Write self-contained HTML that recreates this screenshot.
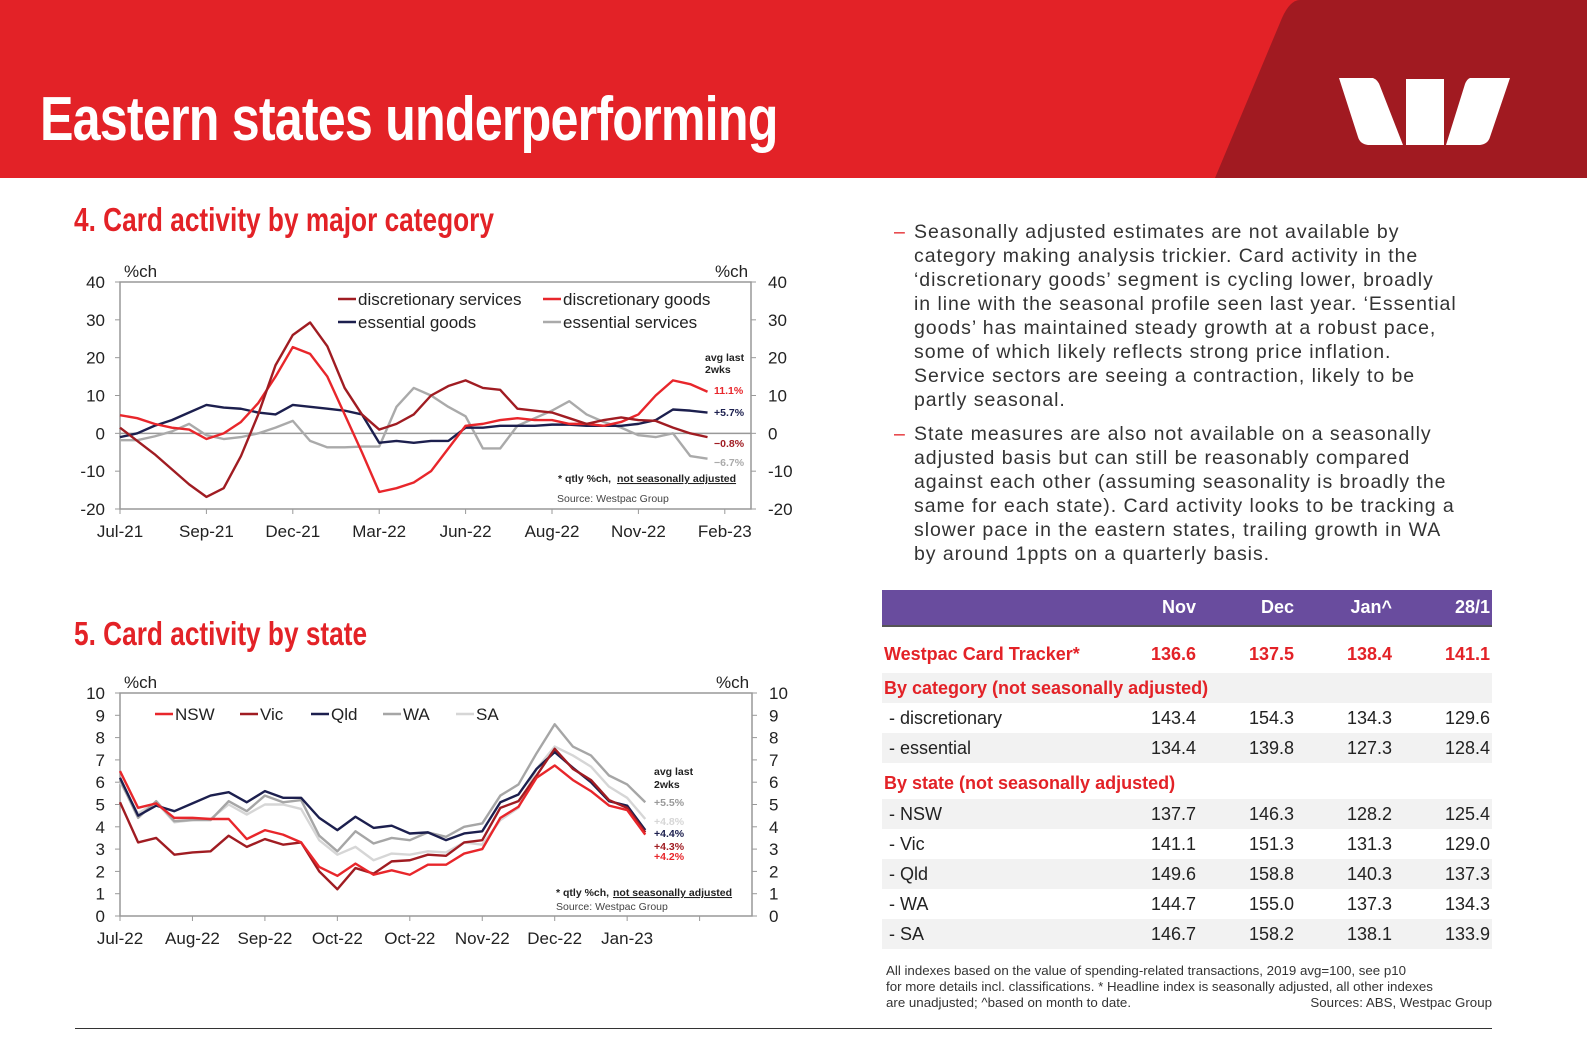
<!DOCTYPE html>
<html><head><meta charset="utf-8">
<style>
body{margin:0;width:1587px;height:1042px;position:relative;background:#fff;overflow:hidden;font-family:"Liberation Sans",sans-serif;}
.abs{position:absolute;}
#hdr{left:0;top:0;width:1587px;height:178px;background:#e32227;}
#title{left:40px;top:84px;color:#fff;font-family:"Liberation Sans Narrow","Liberation Sans",sans-serif;font-weight:bold;font-size:62px;letter-spacing:-1px;transform:scaleX(0.81);transform-origin:left top;white-space:nowrap;}
.sec{color:#e32227;font-family:"Liberation Sans Narrow","Liberation Sans",sans-serif;font-weight:bold;font-size:33px;transform:scaleX(0.795);transform-origin:left top;white-space:nowrap;}
.para{left:894px;width:640px;color:#333;font-size:19.5px;line-height:24px;letter-spacing:0.95px;white-space:nowrap;}
.para .d{position:absolute;left:0;color:#e32227;}
.para .t{margin-left:20px;}
table{border-collapse:collapse;position:absolute;left:882px;top:590px;width:610px;font-size:18px;color:#222;}
td{padding:0 2px;height:30px;white-space:nowrap;}
td.n{text-align:right;width:94px;}
tr.g td{background:#f2f2f2;}
tr.h td{background:#694c9e;color:#fff;font-weight:bold;height:35px;border-bottom:2px solid #555;}
tr.r td{color:#e32227;font-weight:bold;}
.note{left:886px;top:963px;width:606px;font-size:13.3px;line-height:16px;color:#333;white-space:nowrap;}
</style></head><body>
<div id="hdr" class="abs"></div>
<svg class="abs" style="left:0;top:0" width="1587" height="180">
<path d="M1300 0 L1587 0 L1587 178 L1215 178 L1282 18 Q1290 0 1300 0Z" fill="#a11a21"/>
<path d="M1339 78 L1373 78 Q1378 80 1380 86 L1403 145 L1368 145 Q1360 144 1358 137 Z" fill="#fff"/>
<rect x="1406" y="79" width="38" height="66" fill="#fff"/>
<path d="M1470 78 L1510 78 L1490 137 Q1488 144 1480 145 L1446 145 L1465 84 Q1467 79 1470 78Z" fill="#fff"/>
</svg>
<div id="title" class="abs">Eastern states underperforming</div>
<div class="abs sec" style="left:74px;top:201px">4. Card activity by major category</div>
<div class="abs sec" style="left:74px;top:615px">5. Card activity by state</div>

<div class="abs para" style="top:220px"><span class="d">–</span><div class="t">Seasonally adjusted estimates are not available by<br>category making analysis trickier. Card activity in the<br>‘discretionary goods’ segment is cycling lower, broadly<br>in line with the seasonal profile seen last year. ‘Essential<br>goods’ has maintained steady growth at a robust pace,<br>some of which likely reflects strong price inflation.<br>Service sectors are seeing a contraction, likely to be<br>partly seasonal.</div></div>
<div class="abs para" style="top:422px"><span class="d">–</span><div class="t">State measures are also not available on a seasonally<br>adjusted basis but can still be reasonably compared<br>against each other (assuming seasonality is broadly the<br>same for each state). Card activity looks to be tracking a<br>slower pace in the eastern states, trailing growth in WA<br>by around 1ppts on a quarterly basis.</div></div>

<table>
<tr class="h"><td></td><td class="n">Nov</td><td class="n">Dec</td><td class="n">Jan^</td><td class="n">28/1</td></tr>
<tr style="height:8px"><td style="height:8px"></td></tr>
<tr class="r"><td style="height:38px">Westpac Card Tracker*</td><td class="n">136.6</td><td class="n">137.5</td><td class="n">138.4</td><td class="n">141.1</td></tr>
<tr class="g r"><td colspan="5">By category (not seasonally adjusted)</td></tr>
<tr><td>&nbsp;- discretionary</td><td class="n">143.4</td><td class="n">154.3</td><td class="n">134.3</td><td class="n">129.6</td></tr>
<tr class="g"><td>&nbsp;- essential</td><td class="n">134.4</td><td class="n">139.8</td><td class="n">127.3</td><td class="n">128.4</td></tr>
<tr class="r"><td colspan="5" style="height:32px;padding-top:4px">By state (not seasonally adjusted)</td></tr>
<tr class="g"><td>&nbsp;- NSW</td><td class="n">137.7</td><td class="n">146.3</td><td class="n">128.2</td><td class="n">125.4</td></tr>
<tr><td>&nbsp;- Vic</td><td class="n">141.1</td><td class="n">151.3</td><td class="n">131.3</td><td class="n">129.0</td></tr>
<tr class="g"><td>&nbsp;- Qld</td><td class="n">149.6</td><td class="n">158.8</td><td class="n">140.3</td><td class="n">137.3</td></tr>
<tr><td>&nbsp;- WA</td><td class="n">144.7</td><td class="n">155.0</td><td class="n">137.3</td><td class="n">134.3</td></tr>
<tr class="g"><td>&nbsp;- SA</td><td class="n">146.7</td><td class="n">158.2</td><td class="n">138.1</td><td class="n">133.9</td></tr>
</table>
<div class="abs note">All indexes based on the value of spending-related transactions, 2019 avg=100, see p10<br>for more details incl. classifications. * Headline index is seasonally adjusted, all other indexes<br>are unadjusted; ^based on month to date.<span style="position:absolute;right:0">Sources: ABS, Westpac Group</span></div>
<div class="abs" style="left:75px;top:1028px;width:1417px;height:1px;background:#333"></div>

<svg id="c1" class="abs" style="left:0;top:0" width="800" height="1042"></svg>

<script>
// Chart 4 data
const c1Ticks = ["Jul-21","Sep-21","Dec-21","Mar-22","Jun-22","Aug-22","Nov-22","Feb-23"];
const c1YTicks = [-20,-10,0,10,20,30,40];
const discServices = [1.5,-2,-5.5,-9.5,-13.5,-16.8,-14.5,-6,5,18,26,29.3,23,12,5,1,2.5,5,10,12.5,14,12,11.5,6.5,6,5.5,4,2.5,3.5,4.2,3.5,3.3,1.5,0,-1];
const discGoods = [4.8,4,2.5,1.5,1,-1.5,0,3,8,15,22.8,21,15,5,-5,-15.5,-14.5,-13,-10,-4,2,2.5,3.5,4,3.5,3.5,2.5,2.5,2,3,5,10,14,13,11];
const essGoods = [-1,0,2,3.5,5.5,7.5,6.8,6.5,5.5,5,7.5,7,6.5,6,5,-2.5,-2,-2.5,-2,-2,1.5,1.5,2,2,2,2.3,2.3,2,2,2,2.5,3.5,6.3,6,5.5];
const essServices = [-1.8,-1.8,-0.8,0.5,2.5,-0.5,-1.5,-1,0,1.5,3.3,-2,-3.7,-3.7,-3.5,-3.5,7,12,10,7,4.5,-4,-4,2,4,6,8.5,5,3,1.5,-0.5,-1,0,-6,-6.7];
const c1Ends = ["11.1%","+5.7%","−0.8%","−6.7%"];
// Chart 5 data
const c2Ticks = ["Jul-22","Aug-22","Sep-22","Oct-22","Oct-22","Nov-22","Dec-22","Jan-23",""];
const c2YTicks = [0,1,2,3,4,5,6,7,8,9,10];
const nsw = [6.5,4.85,5.05,4.4,4.4,4.35,4.35,3.45,3.85,3.65,3.3,2.2,1.8,2.35,1.85,2.05,1.85,2.3,2.3,2.8,3.0,4.4,4.9,6.2,6.75,6.1,5.6,4.95,4.75,3.65];
const vic = [5.1,3.3,3.5,2.75,2.85,2.9,3.6,3.1,3.45,3.2,3.3,2.0,1.2,2.15,1.9,2.45,2.5,2.75,2.7,3.3,3.4,4.85,5.15,6.3,7.5,6.6,6.1,5.2,4.85,3.75];
const qld = [6.2,4.5,4.95,4.7,5.05,5.4,5.55,5.1,5.6,5.3,5.3,4.4,3.85,4.45,3.95,4.05,3.7,3.75,3.4,3.7,3.8,5.1,5.45,6.6,7.35,6.65,6.0,5.15,4.95,3.85];
const wa = [6.1,4.4,5.15,4.25,4.3,4.3,5.15,4.7,5.4,5.1,5.2,3.6,2.9,3.8,3.25,3.5,3.4,3.75,3.55,4.0,4.15,5.4,5.9,7.3,8.6,7.6,7.2,6.3,5.9,5.1];
const sa = [6.0,4.6,5.1,4.2,4.3,4.35,5.0,4.55,5.0,5.0,4.8,3.4,2.75,3.1,2.5,2.8,2.75,2.9,2.85,3.3,3.2,4.3,4.85,6.6,7.6,7.2,6.7,5.8,5.3,4.35];
const c2Ends = ["+5.5%","+4.8%","+4.4%","+4.3%","+4.2%"];

const NS="http://www.w3.org/2000/svg";
const svg=document.getElementById('c1');
function mk(tag,attrs,text){const e=document.createElementNS(NS,tag);for(const k in attrs)e.setAttribute(k,attrs[k]);if(text!==undefined)e.textContent=text;svg.appendChild(e);return e;}
const FONT='"Liberation Sans Narrow","Liberation Sans",sans-serif';

function chart(o){
  const L=o.left,R=o.right,T=o.top,B=o.bottom;
  const y=v=>B-(v-o.ymin)/(o.ymax-o.ymin)*(B-T);
  const x=i=>L+i*o.step;
  let e=mk('rect',{x:L,y:T,width:R-L,height:B-T,fill:'none',stroke:'#999','stroke-width':1.5});
  
  
  o.yt.forEach(v=>{
    mk('line',{x1:L-5,x2:L,y1:y(v),y2:y(v),stroke:'#999'});
    mk('line',{x1:R,x2:R+5,y1:y(v),y2:y(v),stroke:'#999'});
    e=mk('text',{x:L-15,y:y(v)+6,'text-anchor':'end','font-size':17,'font-family':FONT,fill:'#222'},String(v));
    
    
    e=mk('text',{x:R+17,y:y(v)+6,'font-size':17,'font-family':FONT,fill:'#222'},String(v));
    
    
  });
  if(o.zero) mk('line',{x1:L,x2:R,y1:y(0),y2:y(0),stroke:'#999','stroke-width':1.5});
  o.xt.forEach((t,k)=>{
    const xx=x(k*o.per);
    mk('line',{x1:xx,x2:xx,y1:B,y2:B+5,stroke:'#999'});
    e=mk('text',{x:xx,y:B+28,'text-anchor':'middle','font-size':17,'font-family':FONT,fill:'#222'},t);
    
    
  });
  e=mk('text',{x:L+4,y:T-5,'font-size':17,'font-family':FONT,fill:'#222'},'%ch');
  
  
  e=mk('text',{x:R-36,y:T-5,'font-size':17,'font-family':FONT,fill:'#222'},'%ch');
  
  
  o.series.forEach(s=>{
    const p=mk('polyline',{points:s.d.map((v,i)=>x(i)+','+y(v)).join(' '),fill:'none',stroke:s.c,'stroke-width':2.4,'stroke-linejoin':'round'});
    
    
  });
  o.series.forEach(s=>{
    mk('line',{x1:s.lx,x2:s.lx+18,y1:s.ly-6,y2:s.ly-6,stroke:s.c,'stroke-width':2.5});
    const t=mk('text',{x:s.lx+20,y:s.ly,'font-size':17,'font-family':FONT,fill:'#222'},s.label);
    
    
  });
}

chart({id:'c1',left:120,right:751,top:282,bottom:509,ymin:-20,ymax:40,step:86.4/5,per:5,zero:true,yt:c1YTicks,xt:c1Ticks,series:[
 {n:'essential-services',d:essServices,c:'#aaaaaa',label:'essential services',lx:543,ly:328},
 {n:'essential-goods',d:essGoods,c:'#1c1f4e',label:'essential goods',lx:338,ly:328},
 {n:'discretionary-goods',d:discGoods,c:'#e8262b',label:'discretionary goods',lx:543,ly:305},
 {n:'discretionary-services',d:discServices,c:'#a01c22',label:'discretionary services',lx:338,ly:305}]});

chart({id:'c2',left:120,right:752,top:693,bottom:916,ymin:0,ymax:10,step:72.45/4,per:4,zero:false,yt:c2YTicks,xt:c2Ticks,series:[
 {n:'sa',d:sa,c:'#d6d6d6',label:'SA',lx:456,ly:720},
 {n:'wa',d:wa,c:'#a6a6a6',label:'WA',lx:383,ly:720},
 {n:'qld',d:qld,c:'#1c1f4e',label:'Qld',lx:311,ly:720},
 {n:'vic',d:vic,c:'#a01c22',label:'Vic',lx:240,ly:720},
 {n:'nsw',d:nsw,c:'#e8262b',label:'NSW',lx:155,ly:720}]});

function small(x,y,t,c,bold,name,ul){
  const e=mk('text',{x:x,y:y,'font-size':10.5,'font-family':FONT,fill:c,'font-weight':bold?'bold':'normal'},t);
  if(ul) e.setAttribute('text-decoration','underline');
  
  
}
small(705,361,'avg last','#222',true,'c1-avg-label');
small(705,373,'2wks','#222',true,'c1-avg-label-2');
const c1EndCols=['#e8262b','#1c1f4e','#a01c22','#aaaaaa'];
const c1EndY=[394,416,447,466];
c1Ends.forEach((t,i)=>small(714,c1EndY[i],t,c1EndCols[i],true,'c1-end-label'));
small(558,482,'* qtly %ch, ','#222',true,'c1-footnote');
small(617,482,'not seasonally adjusted','#222',true,'c1-footnote-ul',true);
small(557,502,'Source: Westpac Group','#444',false,'c1-source');

small(654,775,'avg last','#222',true,'c2-avg-label');
small(654,788,'2wks','#222',true,'c2-avg-label-2');
const c2EndCols=['#999999','#d6d6d6','#1c1f4e','#a01c22','#e8262b'];
const c2EndY=[806,825,837,850,860];
c2Ends.forEach((t,i)=>small(654,c2EndY[i],t,c2EndCols[i],true,'c2-end-label'));
small(556,896,'* qtly %ch, ','#222',true,'c2-footnote');
small(613,896,'not seasonally adjusted','#222',true,'c2-footnote-ul',true);
small(556,910,'Source: Westpac Group','#444',false,'c2-source');
</script>
</body></html>
